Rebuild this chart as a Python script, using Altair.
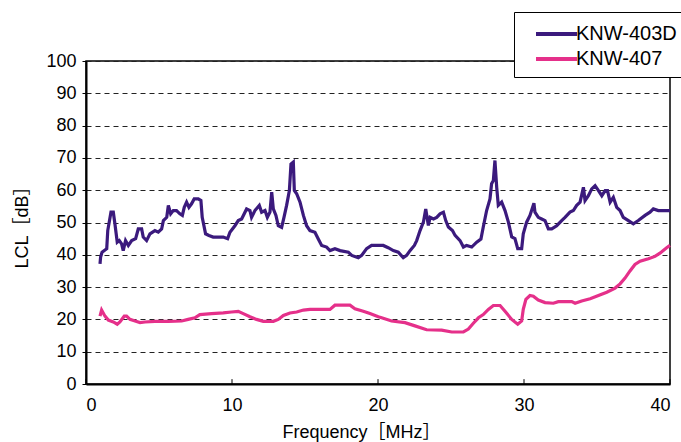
import altair as alt
import pandas as pd

# KNW-403D (purple)
f403 = [0.96, 1.0, 1.1, 1.42, 1.49, 1.71, 1.87, 1.98, 2.14, 2.28, 2.44, 2.55, 2.71, 2.9, 3.13, 3.4, 3.58, 3.81, 3.92,
        4.15, 4.38, 4.72, 4.95, 5.18, 5.3, 5.53, 5.64, 5.8, 5.98, 6.2, 6.43, 6.6, 6.73, 6.89, 7.05, 7.23, 7.41,
        7.69, 7.87, 7.96, 8.19, 8.42, 8.71, 9.06, 9.4, 9.7, 9.86, 10.2, 10.43, 10.66, 11.0, 11.23, 11.34, 11.57,
        11.87, 12.03, 12.26, 12.42, 12.6, 12.72, 12.83, 13.01, 13.17, 13.4, 13.56, 13.74, 13.93, 14.04, 14.2,
        14.27, 14.43, 14.66, 14.89, 15.11, 15.34, 15.68, 15.91, 16.14, 16.48, 16.71, 17.05, 17.4, 17.97, 18.2,
        18.65, 18.88, 19.22, 19.56, 20.09, 20.36, 20.7, 21.05, 21.39, 21.73, 21.96, 22.19, 22.49, 22.65, 22.88,
        23.11, 23.27, 23.45, 23.57, 23.8, 24.02, 24.25, 24.48, 24.64, 24.82, 25.1, 25.28, 25.62, 25.85, 26.07,
        26.42, 26.76, 27.05, 27.21, 27.44, 27.67, 27.78, 27.9, 28.01, 28.13, 28.24, 28.47, 28.7, 28.93, 29.16,
        29.38, 29.57, 29.84, 29.95, 30.18, 30.41, 30.68, 30.75, 30.98, 31.21, 31.44, 31.67, 31.9, 32.24, 32.58,
        32.81, 33.15, 33.38, 33.61, 33.84, 34.07, 34.18, 34.41, 34.64, 34.87, 35.1, 35.33, 35.56, 35.72, 35.9,
        36.12, 36.35, 36.58, 36.8, 37.15, 37.49, 37.83, 38.29, 38.63, 38.86, 39.2, 39.54, 39.89, 40.0]
v403 = [37.2, 39.3, 40.8, 41.9, 47.5, 53.2, 53.2, 49.6, 43.9, 44.4, 43.4, 41.3, 44.4, 42.9, 44.4, 45.0, 48.0, 48.0, 45.5,
        44.4, 46.5, 47.5, 47.0, 48.0, 50.6, 51.6, 55.3, 52.7, 53.7, 53.7, 52.7, 52.2, 54.7, 56.3, 54.7, 55.8, 57.3,
        57.3, 56.8, 51.6, 46.5, 46.0, 45.5, 45.5, 45.5, 45.0, 47.0, 49.0, 50.6, 51.1, 54.2, 53.7, 51.6, 53.7,
        55.3, 53.2, 53.7, 51.6, 53.2, 59.4, 54.2, 52.2, 49.0, 48.5, 51.6, 55.3, 59.9, 68.1, 68.7,
        59.9, 58.9, 56.3, 52.2, 49.0, 47.5, 47.0, 44.9, 42.9, 42.4, 41.3, 41.9, 41.3, 40.8, 39.8,
        39.1, 39.8, 41.9, 42.9, 42.9, 42.9, 42.2, 41.3, 40.8, 39.1, 39.8, 41.3, 42.9, 44.4, 47.5,
        50.1, 54.2, 49.1, 51.6, 51.1, 51.6, 52.7, 53.2, 50.6, 48.6, 47.5, 46.0, 44.4, 42.4, 42.9,
        42.4, 43.9, 44.9, 48.6, 53.7, 57.3, 62.0, 63.0, 69.2, 60.9, 55.3, 56.3, 53.7, 50.1, 45.5,
        45.0, 41.9, 41.9, 46.5, 50.1, 52.2, 56.0, 53.2, 51.6, 51.1, 50.6, 48.0, 48.0, 49.0, 50.6,
        51.6, 53.2, 53.7, 55.3, 56.3, 60.9, 56.8, 58.3, 60.4, 61.4, 59.9, 58.3, 59.9, 59.9, 56.3,
        57.8, 54.7, 53.7, 51.6, 50.6, 49.6, 50.6, 52.2, 53.2, 54.2, 53.7, 53.7, 53.7, 53.7]

# KNW-407 (pink)
f407 = [0.96, 1.07, 1.3, 1.53, 1.87, 2.14, 2.32, 2.62, 2.78, 3.01, 3.36, 3.7, 4.04, 4.72, 5.64, 6.55, 7.0, 7.46, 7.8,
        8.6, 9.4, 9.97, 10.43, 10.77, 11.23, 11.68, 12.14, 12.83, 13.17, 13.52, 13.97, 14.43, 14.89, 15.34, 16.71,
        17.05, 18.08, 18.42, 18.99, 19.45, 20.02, 20.25, 20.93, 21.85, 22.53, 23.33, 24.36, 25.05, 25.85, 26.19,
        26.53, 26.88, 27.21, 27.56, 27.9, 28.36, 28.7, 29.16, 29.57, 29.84, 29.95, 30.13, 30.41, 30.64, 30.98,
        31.44, 32.01, 32.35, 33.27, 33.5, 33.95, 34.53, 35.1, 35.67, 36.24, 36.58, 36.92, 37.26, 37.6, 37.95,
        38.52, 38.97, 39.31, 39.77, 40.0]
v407 = [21.0, 22.9, 21.0, 19.8, 19.2, 18.5, 19.2, 21.0, 21.0, 20.0, 19.5, 19.0, 19.2, 19.4, 19.4, 19.5, 20.0, 20.5, 21.5,
        21.8, 22.0, 22.3, 22.5, 21.8, 20.8, 20.0, 19.4, 19.4, 20.0, 21.2, 22.0, 22.3, 22.9, 23.1, 23.1,
        24.4, 24.4, 23.3, 22.5, 21.8, 20.8, 20.5, 19.5, 19.0, 18.0, 16.8, 16.7, 16.1, 16.1, 17.0,
        18.8, 20.5, 21.5, 23.1, 24.3, 24.3, 22.5, 20.0, 18.5, 19.5, 23.1, 26.2, 27.4, 27.2, 26.0,
        25.2, 25.0, 25.5, 25.5, 25.0, 25.7, 26.4, 27.4, 28.4, 29.7, 31.0, 32.8, 35.0, 37.0, 38.0,
        38.8, 39.5, 40.5, 42.2, 42.9]

series = ["KNW-403D", "KNW-407"]
colors = ["#3b1a7d", "#e5308a"]
x_ticks = [0, 10, 20, 30, 40]
y_ticks = [0, 10, 20, 30, 40, 50, 60, 70, 80, 90, 100]

rows = []
for i, (f, v) in enumerate(zip(f403, v403)):
    rows.append({"f": f, "v": v, "s": series[0], "o": i})
for i, (f, v) in enumerate(zip(f407, v407)):
    rows.append({"f": f, "v": v, "s": series[1], "o": i})
df = pd.DataFrame(rows)

FONT = "Liberation Sans, 'Noto Sans CJK JP', sans-serif"

xscale = alt.Scale(domain=[0, 40], nice=False)
yscale = alt.Scale(domain=[0, 100], nice=False)

xaxis = alt.Axis(values=x_ticks, title="Frequency［MHz］", grid=False, ticks=False,
                 labelPadding=12, titlePadding=9, titleX=275, domainWidth=2, labelOverlap=False)
yaxis = alt.Axis(values=y_ticks, title="LCL［dB］", grid=True, gridDash=[5, 4],
                 gridColor="#222", gridWidth=1, tickSize=4, labelPadding=6,
                 titlePadding=14, domainWidth=2, labelOverlap=False)

lines = alt.Chart(df).mark_line(strokeWidth=3.2).encode(
    x=alt.X("f:Q", scale=xscale, axis=xaxis),
    y=alt.Y("v:Q", scale=yscale, axis=yaxis),
    color=alt.Color("s:N", scale=alt.Scale(domain=series, range=colors),
                    legend=alt.Legend(title=None, orient="none", legendX=428, legendY=-49,
                                      symbolType="M0,0H3.43", symbolSize=576, symbolStrokeWidth=4,
                                      labelFontSize=20, labelFont=FONT, labelColor="black",
                                      strokeColor="black", fillColor="white", padding=8,
                                      rowPadding=1, labelOffset=26, labelLimit=300)),
    order="o:Q",
)

tick_df = pd.DataFrame({"x": x_ticks, "y0": [0] * len(x_ticks), "y1": [1.5] * len(x_ticks)})
ticks = alt.Chart(tick_df).mark_rule(color="black", strokeWidth=1).encode(
    x=alt.X("x:Q", scale=xscale, axis=xaxis),
    y=alt.Y("y0:Q", scale=yscale, axis=yaxis),
    y2="y1:Q",
)

chart = alt.layer(lines, ticks).properties(
    width=584, height=323,
    autosize=alt.AutoSizeParams(type="none"),
    padding={"left": 86, "top": 61, "right": 11, "bottom": 58},
    background="white",
).configure_view(stroke="black", strokeWidth=1.5).configure_axis(
    labelFont=FONT, labelFontSize=18, labelColor="black", titleFont=FONT, titleFontSize=18,
    titleFontWeight="normal", titleColor="black", domainColor="black", tickColor="black",
)

chart.save("out.html", embed_options={"renderer": "svg", "actions": False})
